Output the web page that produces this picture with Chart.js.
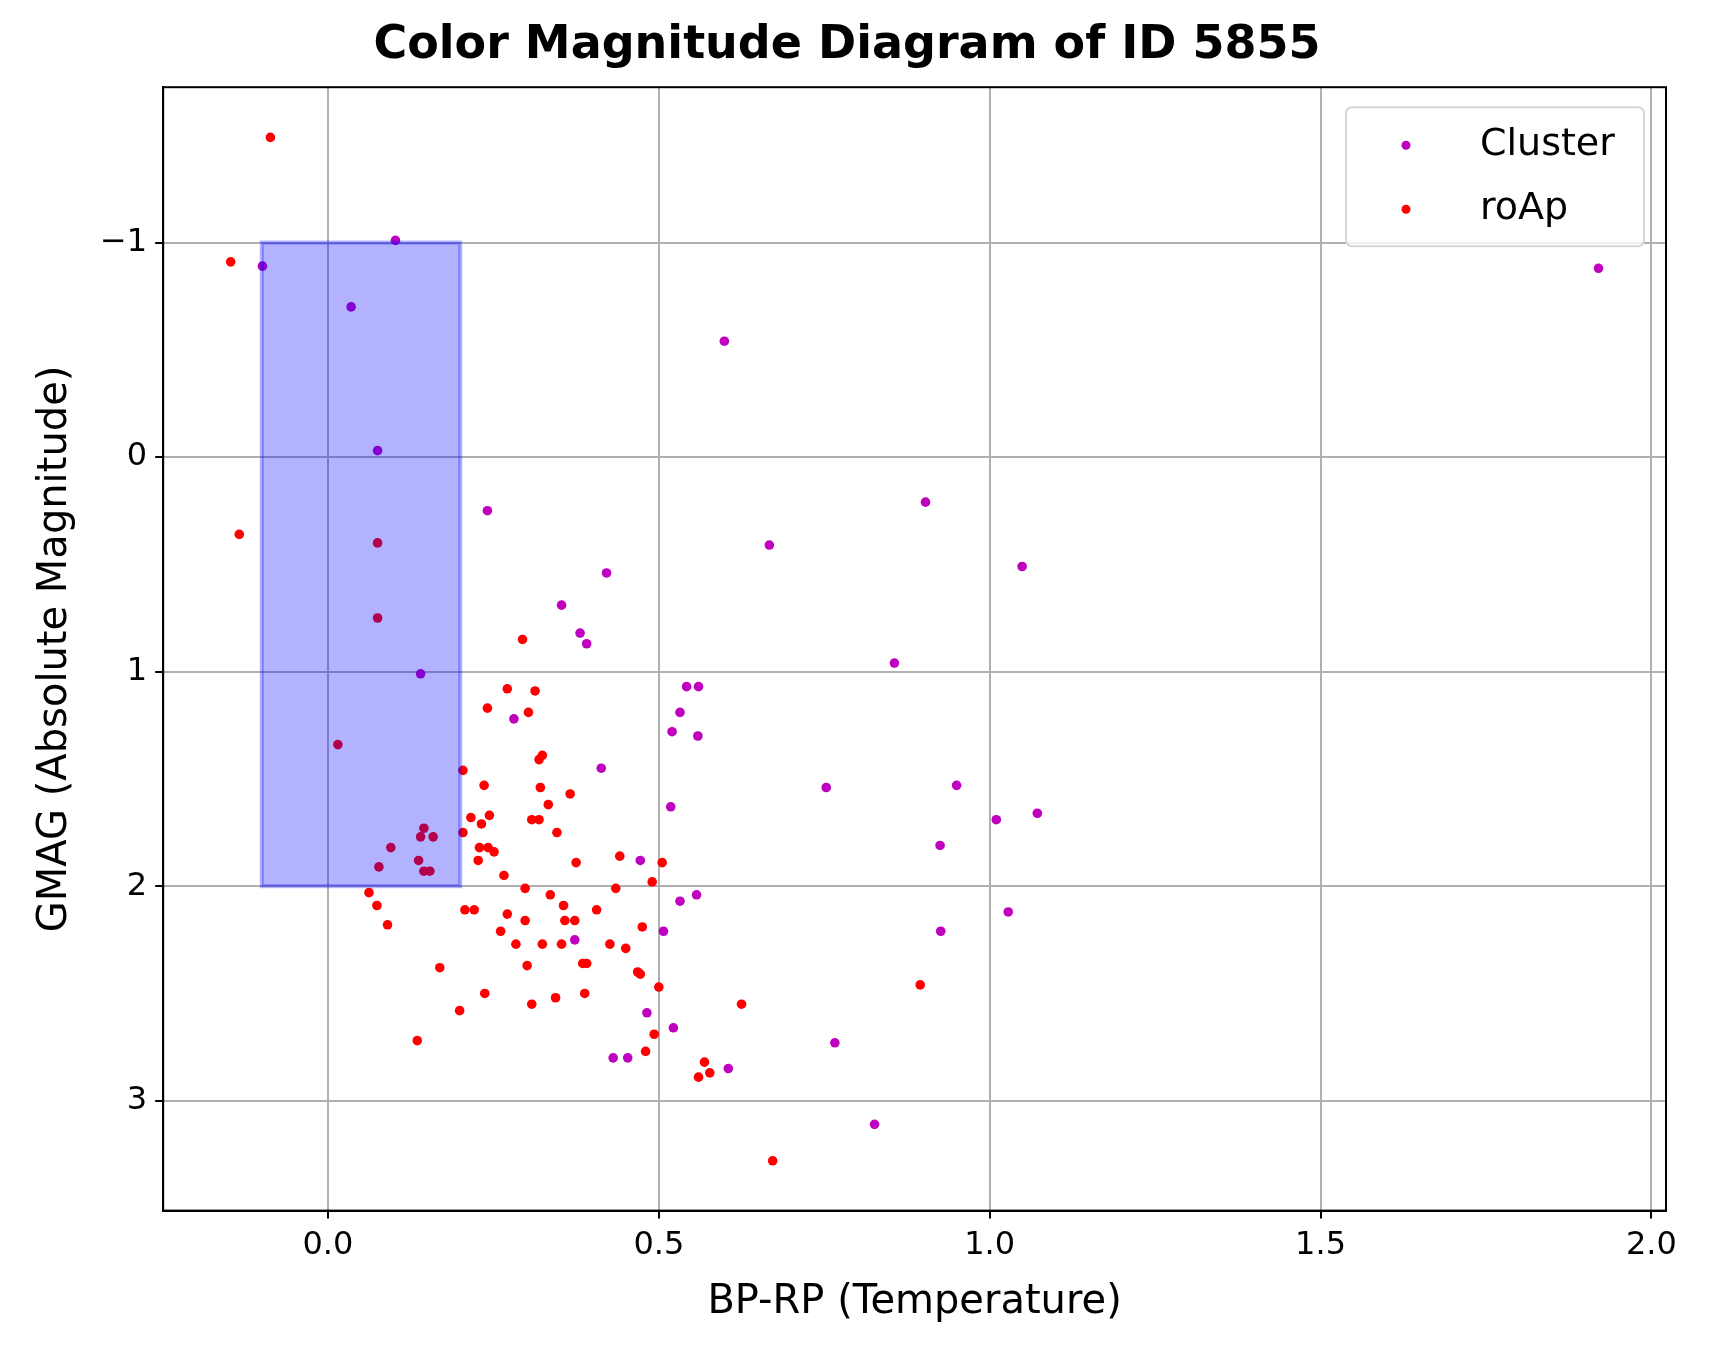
<!DOCTYPE html>
<html>
<head>
<meta charset="utf-8">
<script src="https://cdn.jsdelivr.net/npm/chart.js@4/dist/chart.umd.min.js"></script>
<style>
  body { margin: 0; background: #fff; }
  canvas { display: block; }
</style>
</head>
<body>
<canvas id="cmd" width="1716" height="1361"></canvas>
<script>
// BP-RP and GMAG
const clusterX = [-0.099, 0.035, 0.102, 0.599, 0.075, 0.241, 0.667, 0.903, 1.049, 0.421, 0.353, 0.381, 0.391, 0.856, 0.140, 0.542, 0.560, 0.532, 0.520, 0.559, 0.281, 0.413, 0.753, 0.950, 1.010, 1.072, 0.518, 0.925, 0.472, 0.557, 0.532, 1.028, 0.507, 0.926, 0.373, 0.482, 0.522, 0.766, 0.431, 0.453, 0.605, 0.826, 1.920];
const clusterY = [-0.89, -0.70, -1.01, -0.54, -0.03, 0.25, 0.41, 0.21, 0.51, 0.54, 0.69, 0.82, 0.87, 0.96, 1.01, 1.07, 1.07, 1.19, 1.28, 1.30, 1.22, 1.45, 1.54, 1.53, 1.69, 1.66, 1.63, 1.81, 1.88, 2.04, 2.07, 2.12, 2.21, 2.21, 2.25, 2.59, 2.66, 2.73, 2.80, 2.80, 2.85, 3.11, -0.88];

const roapX = [-0.087, -0.147, -0.134, 0.075, 0.075, 0.015, 0.095, 0.077, 0.145, 0.140, 0.159, 0.137, 0.145, 0.154, 0.204, 0.204, 0.216, 0.236, 0.241, 0.271, 0.294, 0.303, 0.313, 0.319, 0.324, 0.321, 0.333, 0.308, 0.319, 0.366, 0.346, 0.232, 0.244, 0.229, 0.242, 0.251, 0.227, 0.375, 0.441, 0.505, 0.490, 0.435, 0.266, 0.298, 0.336, 0.356, 0.406, 0.358, 0.373, 0.298, 0.271, 0.221, 0.207, 0.261, 0.284, 0.324, 0.353, 0.426, 0.450, 0.475, 0.301, 0.385, 0.391, 0.468, 0.472, 0.500, 0.237, 0.344, 0.388, 0.308, 0.625, 0.199, 0.493, 0.480, 0.135, 0.569, 0.560, 0.577, 0.672, 0.895, 0.062, 0.074, 0.090, 0.169];
const roapY = [-1.49, -0.91, 0.36, 0.40, 0.75, 1.34, 1.82, 1.91, 1.73, 1.77, 1.77, 1.88, 1.93, 1.93, 1.46, 1.75, 1.68, 1.53, 1.17, 1.08, 0.85, 1.19, 1.09, 1.41, 1.39, 1.54, 1.62, 1.69, 1.69, 1.57, 1.75, 1.71, 1.67, 1.82, 1.82, 1.84, 1.88, 1.89, 1.86, 1.89, 1.98, 2.01, 1.95, 2.01, 2.04, 2.09, 2.11, 2.16, 2.16, 2.16, 2.13, 2.11, 2.11, 2.21, 2.27, 2.27, 2.27, 2.27, 2.29, 2.19, 2.37, 2.36, 2.36, 2.40, 2.41, 2.47, 2.50, 2.52, 2.50, 2.55, 2.55, 2.58, 2.69, 2.77, 2.72, 2.82, 2.89, 2.87, 3.28, 2.46, 2.03, 2.09, 2.18, 2.38];

// highlighted region: BP-RP -0.1..0.2, GMAG -1..2
const boxX = [-0.1, 0.2];
const boxY = [-1, 2];

const seriesNames = ['Cluster', 'roAp'];
const seriesColors = ['#bf00bf', '#ff0000'];

function toPoints(xs, ys) {
    return xs.map((x, i) => ({ x: x, y: ys[i] }));
}

const boxPlugin = {
    id: 'box',
    afterDatasetsDraw(chart) {
        const ctx = chart.ctx;
        const sx = chart.scales.x, sy = chart.scales.y;
        const x0 = sx.getPixelForValue(boxX[0]), x1 = sx.getPixelForValue(boxX[1]);
        const y0 = sy.getPixelForValue(boxY[0]), y1 = sy.getPixelForValue(boxY[1]);
        ctx.save();
        ctx.fillStyle = 'rgba(0,0,255,0.3)';
        ctx.fillRect(x0, y0, x1 - x0, y1 - y0);
        ctx.strokeStyle = 'rgba(0,0,255,0.3)';
        ctx.lineWidth = 4;
        ctx.strokeRect(x0, y0, x1 - x0, y1 - y0);
        // full frame like matplotlib spines
        const a = chart.chartArea;
        ctx.strokeStyle = '#000';
        ctx.lineWidth = 2;
        ctx.strokeRect(a.left, a.top, a.right - a.left, a.bottom - a.top);
        ctx.restore();
    }
};

// matplotlib-style legend inside the plot, top right
const legendPlugin = {
    id: 'boxLegend',
    afterDraw(chart) {
        const ctx = chart.ctx;
        const a = chart.chartArea;
        const w = 298, h = 139;
        const left = a.right - w - 22, top = a.top + 20;
        ctx.save();
        ctx.fillStyle = 'rgba(255,255,255,0.8)';
        ctx.strokeStyle = '#d6d6d6';
        ctx.lineWidth = 2;
        ctx.beginPath();
        ctx.roundRect(left, top, w, h, 6);
        ctx.fill();
        ctx.stroke();
        ctx.font = '38px "DejaVu Sans"';
        ctx.textBaseline = 'middle';
        seriesNames.forEach((name, i) => {
            const cy = top + 38 + i * 64;
            ctx.fillStyle = seriesColors[i];
            ctx.beginPath();
            ctx.arc(left + 60, cy, 4.5, 0, Math.PI * 2);
            ctx.fill();
            ctx.fillStyle = '#000';
            ctx.fillText(name, left + 134, cy);
        });
        ctx.restore();
    }
};

const tickFont = { family: 'DejaVu Sans', size: 32 };

new Chart(document.getElementById('cmd').getContext('2d'), {
    type: 'scatter',
    data: {
        datasets: [
            { label: seriesNames[0], data: toPoints(clusterX, clusterY), backgroundColor: seriesColors[0], borderWidth: 0, pointRadius: 4.8 },
            { label: seriesNames[1], data: toPoints(roapX, roapY), backgroundColor: seriesColors[1], borderWidth: 0, pointRadius: 4.8 }
        ]
    },
    plugins: [boxPlugin, legendPlugin],
    options: {
        responsive: false,
        animation: false,
        layout: { padding: { left: 28, right: 50, top: 4, bottom: 30 } },
        plugins: {
            legend: { display: false },
            tooltip: { enabled: false },
            title: {
                display: true,
                text: 'Color Magnitude Diagram of ID 5855',
                color: '#000',
                font: { family: 'DejaVu Sans', size: 46, weight: 'bold' },
                padding: { top: 14, bottom: 14 }
            }
        },
        scales: {
            x: {
                type: 'linear',
                min: -0.249, max: 2.022,
                afterBuildTicks: axis => { axis.ticks = [0, 0.5, 1, 1.5, 2].map(v => ({ value: v })); },
                ticks: { color: '#000', font: tickFont, padding: 8, maxRotation: 0, callback: v => v.toFixed(1) },
                grid: { color: '#b0b0b0', lineWidth: 2, tickLength: 8, tickColor: '#000' },
                border: { color: '#000', width: 2 },
                title: { display: true, text: 'BP-RP (Temperature)', color: '#000', font: { family: 'DejaVu Sans', size: 40 }, padding: { top: 6 } }
            },
            y: {
                type: 'linear',
                reverse: true,
                min: -1.724, max: 3.512,
                afterBuildTicks: axis => { axis.ticks = [-1, 0, 1, 2, 3].map(v => ({ value: v })); },
                ticks: { color: '#000', font: tickFont, padding: 8, callback: v => (v < 0 ? '\u2212' + Math.abs(v) : String(v)) },
                grid: { color: '#b0b0b0', lineWidth: 2, tickLength: 8, tickColor: '#000' },
                border: { color: '#000', width: 2 },
                title: { display: true, text: 'GMAG (Absolute Magnitude)', color: '#000', font: { family: 'DejaVu Sans', size: 40 }, padding: { bottom: 12 } }
            }
        }
    }
});
</script>
</body>
</html>
